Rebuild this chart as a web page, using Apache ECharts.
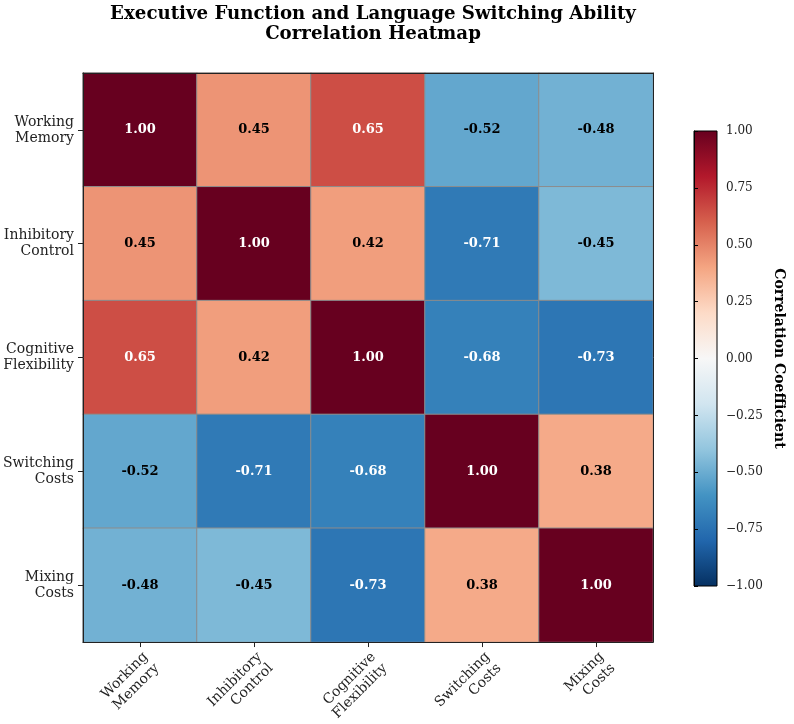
<!DOCTYPE html>
<html><head><meta charset="utf-8">
<script src="https://cdn.jsdelivr.net/npm/echarts@6/dist/echarts.min.js"></script>
<style>html,body{margin:0;padding:0;background:#fff}#c{width:794px;height:724px}</style>
</head><body><div id="c"></div>
<script>
const variables = ['Working\nMemory', 'Inhibitory\nControl', 'Cognitive\nFlexibility', 'Switching\nCosts', 'Mixing\nCosts'];
const rowWorkingMemory      = [1.00, 0.45, 0.65, -0.52, -0.48];
const rowInhibitoryControl  = [0.45, 1.00, 0.42, -0.71, -0.45];
const rowCognitiveFlex      = [0.65, 0.42, 1.00, -0.68, -0.73];
const rowSwitchingCosts     = [-0.52, -0.71, -0.68, 1.00, 0.38];
const rowMixingCosts        = [-0.48, -0.45, -0.73, 0.38, 1.00];
const matrixRows = [rowWorkingMemory, rowInhibitoryControl, rowCognitiveFlex, rowSwitchingCosts, rowMixingCosts];
const colorbarMin = -1, colorbarMax = 1, colorbarStep = 0.25;
const rdbuR = ['#053061','#2166ac','#4393c3','#92c5de','#d1e5f0','#f7f7f7','#fddbc7','#f4a582','#d6604d','#b2182b','#67001f'];

const FONT = 'DejaVu Serif';
const data = [];
matrixRows.forEach((row, i) => row.forEach((v, j) => {
  data.push({ value: [j, i, v], label: { color: Math.abs(v) > 0.6 ? '#ffffff' : '#000000' } });
}));
const fmt = v => (v < 0 ? '\u2212' : '') + Math.abs(v).toFixed(2);

const chart = echarts.init(document.getElementById('c'), null, { renderer: 'canvas' });
const grad = new echarts.graphic.LinearGradient(0, 1, 0, 0,
  rdbuR.map((c, k) => ({ offset: k / (rdbuR.length - 1), color: c })));

chart.setOption({
  animation: false,
  backgroundColor: '#ffffff',
  title: {
    text: 'Executive Function and Language Switching Ability\nCorrelation Heatmap',
    left: 368, top: -1, textAlign: 'center',
    textStyle: { fontFamily: FONT, fontWeight: 'bold', fontSize: 18.2, lineHeight: 20, color: '#000' }
  },
  grid: [
    { left: 82, top: 73, width: 571, height: 570 },
    { left: 694, top: 131, width: 23, height: 455, show: true, backgroundColor: grad, borderColor: '#000', borderWidth: 1 }
  ],
  visualMap: {
    type: 'continuous', show: false, min: colorbarMin, max: colorbarMax, dimension: 2, seriesIndex: 0,
    inRange: { color: rdbuR }
  },
  xAxis: [
    { type: 'category', gridIndex: 0, data: variables, position: 'bottom', z: 5,
      axisLine: { show: true, lineStyle: { color: '#222', width: 1 } },
      axisTick: { show: true, alignWithLabel: true, length: 5, lineStyle: { color: '#222' } },
      axisLabel: { rotate: 45, margin: 7, align: 'right', verticalAlign: 'top',
        fontFamily: FONT, fontSize: 14, lineHeight: 16, color: '#222' },
      splitLine: { show: false } },
    { type: 'category', gridIndex: 0, data: variables, position: 'top', z: 5,
      axisLine: { show: true, lineStyle: { color: '#222', width: 1 } },
      axisTick: { show: false }, axisLabel: { show: false }, splitLine: { show: false } },
    { type: 'value', gridIndex: 1, min: 0, max: 1, show: false }
  ],
  yAxis: [
    { type: 'category', gridIndex: 0, data: variables, inverse: true, position: 'left', z: 5,
      axisLine: { show: true, lineStyle: { color: '#222', width: 1 } },
      axisTick: { show: true, alignWithLabel: true, length: 5, lineStyle: { color: '#222' } },
      axisLabel: { margin: 9, fontFamily: FONT, fontSize: 14, lineHeight: 16, color: '#222' },
      splitLine: { show: false } },
    { type: 'category', gridIndex: 0, data: variables, inverse: true, position: 'right', z: 5,
      axisLine: { show: true, lineStyle: { color: '#222', width: 1 } },
      axisTick: { show: false }, axisLabel: { show: false }, splitLine: { show: false } },
    { type: 'value', gridIndex: 1, min: colorbarMin, max: colorbarMax, interval: colorbarStep, position: 'right',
      name: 'Correlation Coefficient', nameLocation: 'middle', nameRotate: -90, nameGap: 55,
      nameTextStyle: { fontFamily: FONT, fontWeight: 'bold', fontSize: 14, color: '#000' },
      axisLine: { show: true, lineStyle: { color: '#000', width: 1 } },
      axisTick: { show: true, length: 4, lineStyle: { color: '#000' } },
      axisLabel: { margin: 9, fontFamily: FONT, fontSize: 12, color: '#222', formatter: fmt },
      splitLine: { show: false } }
  ],
  series: [
    { type: 'heatmap', xAxisIndex: 0, yAxisIndex: 0, data: data,
      itemStyle: { borderColor: '#8c8c8c', borderWidth: 1 },
      label: { show: true, fontFamily: FONT, fontWeight: 'bold', fontSize: 13,
        formatter: p => p.value[2].toFixed(2) },
      emphasis: { disabled: true } },
    { type: 'line', xAxisIndex: 2, yAxisIndex: 2, data: [] }
  ]
});
</script></body></html>
